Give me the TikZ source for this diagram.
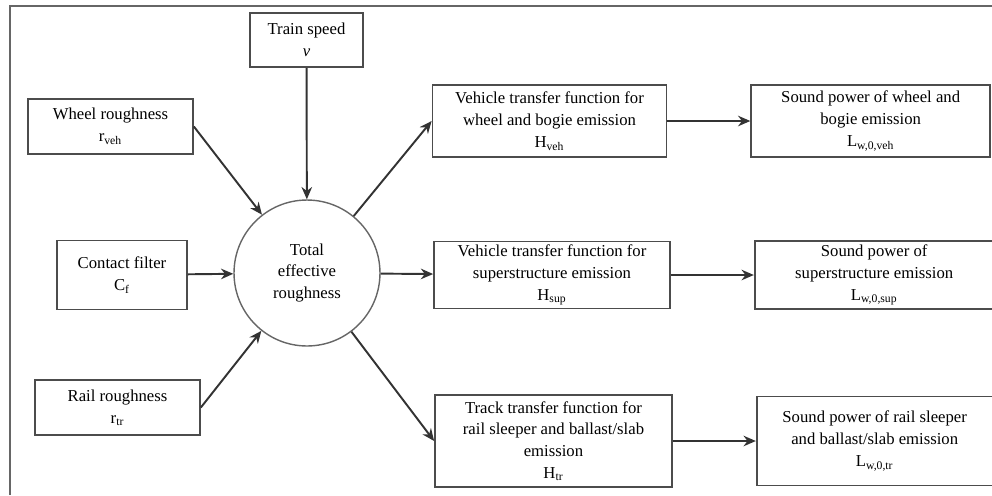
\documentclass[tikz,border=0pt]{standalone}
\usepackage{fontspec}
\setmainfont{Liberation Serif}
\usetikzlibrary{arrows.meta, positioning}
\tikzstyle{arrow} = [
    line width=1.1pt,
    draw=black!80,
    -{Stealth[length=7pt, width=6pt]}
]

\begin{document}
\begin{tikzpicture}[
    x=0.02cm, y=-0.02cm,
    node distance=1.66cm,
    box/.style={
        rectangle,
        draw=black!70,
        line width=1pt,
        align=center,
        inner sep=2pt,
        font=\fontsize{9.5}{12.5}\selectfont
    },
    hub/.style={
        circle,
        draw=black!60,
        line width=0.8pt,
        align=center,
        minimum size=2.92cm,
        inner sep=0pt,
        font=\fontsize{9.5}{12.5}\selectfont
    }
]
\useasboundingbox (0,0) rectangle (992,495);

% Outer frame (cut off right and bottom)
\draw[black!60, line width=0.8pt] (10,495) -- (10,6) -- (992,6);

% Centre
\node[hub] (total) at (307,273) {Total\\effective\\roughness};

% Inputs
\node[box, minimum width=2.26cm, minimum height=1.08cm] (speed) at (306.5,40) {Train speed\\\textit{v}};
\node[box, minimum width=3.3cm, minimum height=1.1cm] (wheel) at (110.5,126.5) {Wheel roughness\\r\textsubscript{veh}};
\node[box, minimum width=2.6cm, minimum height=1.38cm] (contact) at (122,275) {Contact filter\\C\textsubscript{f}};
\node[box, minimum width=3.3cm, minimum height=1.1cm] (rail) at (117.5,407.5) {Rail roughness\\r\textsubscript{tr}};

% Middle Column
\node[box, minimum width=4.68cm, minimum height=1.44cm] (veh) at (549.5,121) {Vehicle transfer function for\\wheel and bogie emission\\H\textsubscript{veh}};
\node[box, minimum width=4.72cm, minimum height=1.3cm] (sup) at (552,275) {Vehicle transfer function for\\superstructure emission\\H\textsubscript{sup}};
\node[box, minimum width=4.74cm, minimum height=1.84cm] (track) at (553.5,441) {Track transfer function for\\rail sleeper and ballast/slab\\emission\\H\textsubscript{tr}};

% Right Column
\node[box, minimum width=4.78cm, minimum height=1.44cm, right=of veh] (powveh) {Sound power of wheel and\\bogie emission\\L\textsubscript{w,0,veh}};
\node[box, minimum width=4.78cm, minimum height=1.36cm, right=of sup] (powsup) {Sound power of\\superstructure emission\\L\textsubscript{w,0,sup}};
\node[box, minimum width=4.72cm, minimum height=1.78cm, right=of track] (powtr) {Sound power of rail sleeper\\and ballast/slab emission\\L\textsubscript{w,0,tr}};

% Arrows in
\draw[arrow] (speed) -- (total);
\draw[arrow] (wheel.east) -- (total);
\draw[arrow] (contact) -- (total);
\draw[arrow] (rail.east) -- (total);

% Arrows out
\draw[arrow] (total) -- (veh.west);
\draw[arrow] (total) -- (sup);
\draw[arrow] (total) -- (track.west);
\draw[arrow] (veh) -- (powveh);
\draw[arrow] (sup) -- (powsup);
\draw[arrow] (track) -- (powtr);

\end{tikzpicture}
\end{document}
